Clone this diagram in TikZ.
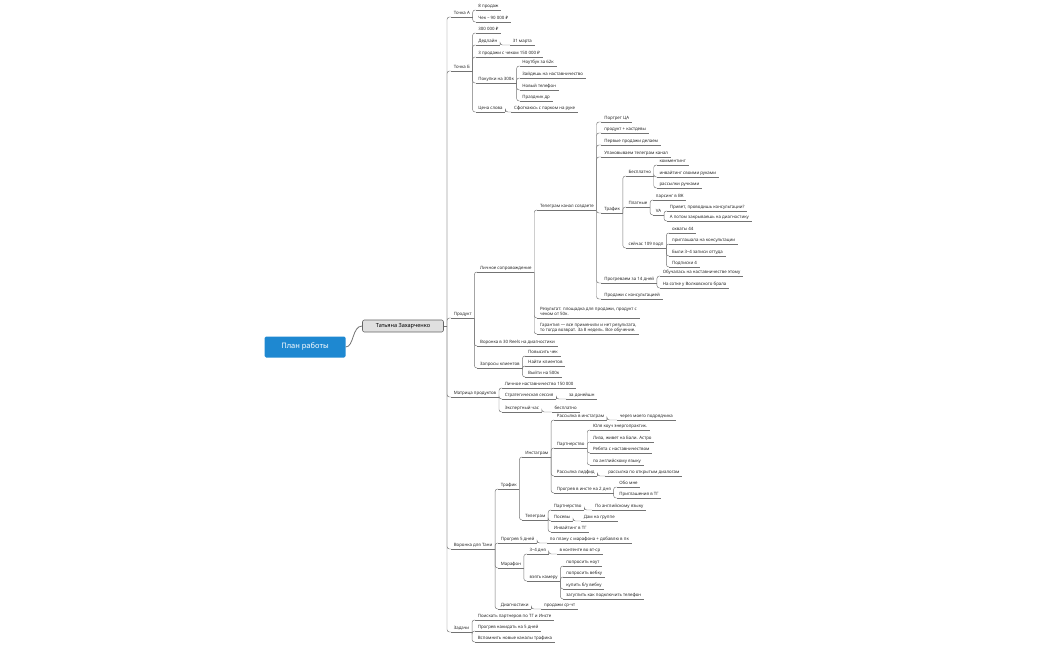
\documentclass[tikz,border=0pt]{standalone}
\usepackage{fontspec}
\setmainfont{Noto Sans}
\definecolor{rootblue}{RGB}{30,136,209}
\begin{document}
\begin{tikzpicture}[x=1pt,y=-1pt,
  mm/.style={anchor=south west,inner xsep=2.6pt,inner ysep=1.3pt,text height=3.3pt,text depth=1.1pt,font=\fontsize{4.4}{5.4}\selectfont,text=black!85,align=left},
  ln/.style={draw=black!55,line width=0.45pt}]
\useasboundingbox (0,0) rectangle (1050,650);
\newcommand\N[5]{%
 \path (#2.south east) ++(#3,0) coordinate (tmpa); \coordinate (tmpb) at (0,#4);
 \node[mm] (#1) at (tmpa |- tmpb) {#5};
 \draw[ln] (#1.south west)--(#1.south east);
 \draw[ln,rounded corners=2.5pt] (#2.south east) |- (#1.south west);}
\newcommand\M[3]{%
 \coordinate (tmpb) at (451,#2);
 \node[mm] (#1) at (tmpb) {#3};
 \draw[ln] (#1.south west)--(#1.south east);
 \draw[ln,rounded corners=2.5pt] (hub) |- (#1.south west);}
\node[fill=rootblue,rounded corners=1.5pt,minimum width=81pt,minimum height=21pt,text=white,font=\fontsize{7.5}{9}\selectfont\bfseries] (root) at (305,347) {План работы};
\node[fill=black!12,draw=black!60,line width=0.6pt,rounded corners=2pt,minimum width=81pt,minimum height=12pt,font=\fontsize{5.6}{7}\selectfont] (tat) at (403,326) {Татьяна Захарченко};
\draw[ln,line width=0.8pt] (root.east) .. controls (354,347) and (352,326) .. (tat.west);
\coordinate (hub) at (447,326);
\draw[ln] (tat.east) -- (hub);
% Точка А
\M{a}{17}{Точка А}
\N{a1}{a}{3}{10}{8 продаж}
\N{a2}{a}{3}{22}{Чек – 90 000 ₽}
% Точка Б
\M{b}{71}{Точка Б}
\N{b1}{b}{3}{33}{300 000 ₽}
\N{b2}{b}{3}{45}{Дедлайн}
\N{b2a}{b2}{10}{45}{31 марта}
\N{b3}{b}{3}{57}{3 продажи с чеком 150 000 ₽}
\N{b4}{b}{3}{83}{Покупки на 300к}
\N{b41}{b4}{3}{66}{Ноутбук за 62к}
\N{b42}{b4}{3}{78}{Зайдешь на наставничество}
\N{b43}{b4}{3}{90}{Новый телефон}
\N{b44}{b4}{3}{101}{Праздник др}
\N{b5}{b}{3}{112}{Цена слова}
\N{b5a}{b5}{6}{112}{Сфоткаюсь с парком на руке}
% Продукт
\M{p}{318}{Продукт}
\N{p1}{p}{3}{272}{Личное сопровождение}
\N{tg}{p1}{3}{210}{Телеграм канал создаете}
\N{tg1}{tg}{5}{122}{Портрет ЦА}
\N{tg2}{tg}{5}{133}{продукт + кастдевы}
\N{tg3}{tg}{5}{145}{Первые продажи делаем}
\N{tg4}{tg}{5}{157}{Упаковываем телеграм канал}
\N{tr}{tg}{5}{213}{Трафик}
\N{fr}{tr}{3}{176}{Бесплатно}
\N{fr1}{fr}{3}{165}{комментинг}
\N{fr2}{fr}{3}{177}{инвайтинг своими руками}
\N{fr3}{fr}{3}{188}{рассылки ручками}
\N{pd}{tr}{3}{207}{Платные}
\N{pd1}{pd}{3}{200}{парсинг в ВК}
\N{va}{pd}{3}{215}{VA}
\N{va1}{va}{3}{211}{Привет, проводишь консультации?}
\N{va2}{va}{3}{221}{А потом закрываешь на диагностику}
\N{sp}{tr}{3}{248}{сейчас 109 подп}
\N{sp1}{sp}{3}{233}{охваты 44}
\N{sp2}{sp}{3}{244}{приглашала на консультации}
\N{sp3}{sp}{3}{256}{Были 3–4 записи оттуда}
\N{sp4}{sp}{3}{267}{Подписки 4}
\N{pr}{tg}{5}{283}{Прогреваем за 14 дней}
\N{pr1}{pr}{3}{276}{Обучалась на наставничестве этому}
\N{pr2}{pr}{3}{288}{На сотке у Волковского брала}
\N{tg5}{tg}{5}{299}{Продажи с консультацией}
\N{p1b}{p1}{3}{318}{\vphantom{Р}Результат: площадка для продажи, продукт с\\чеком от 50к.}
\N{p1c}{p1}{3}{334}{\vphantom{Р}Гарантия — все применили и нет результата,\\то тогда возврат. За 8 недель. Все обучение.}
\N{p2}{p}{3}{346}{Воронка в 30 Reels на диагностики}
\N{p3}{p}{3}{368}{Запросы клиентов}
\N{p31}{p3}{3}{356}{Повысить чек}
\N{p32}{p3}{3}{366}{Найти клиентов}
\N{p33}{p3}{3}{377}{Выйти на 500к}
% Матрица
\M{m}{397}{Матрица продуктов}
\N{m1}{m}{3}{388}{Личное наставничество 150 000}
\N{m2}{m}{3}{399}{Стратегическая сессия}
\N{m2a}{m2}{10}{399}{за донейшн}
\N{m3}{m}{3}{412}{Экспертный час}
\N{m3a}{m3}{10}{412}{бесплатно}
% Воронка для Тани
\M{v}{549}{Воронка для Тани}
\N{vt}{v}{3}{489}{Трафик}
\N{ig}{vt}{3}{457}{Инстаграм}
\N{ig1}{ig}{3}{420}{Рассылка в инстаграм}
\N{ig1a}{ig1}{10}{420}{через моего подрядчика}
\N{ig2}{ig}{3}{448}{Партнерство}
\N{ig21}{ig2}{3}{430}{Юля коуч энергопрактик.}
\N{ig22}{ig2}{3}{442}{Лиза, живет на Бали. Астро}
\N{ig23}{ig2}{3}{453}{Ребята с наставничеством}
\N{ig24}{ig2}{3}{465}{по английскому языку}
\N{ig3}{ig}{3}{476}{Рассылка лидфид}
\N{ig3a}{ig3}{8}{476}{рассылка по открытым диалогам}
\N{ig4}{ig}{3}{493}{Прогрев в инсте на 2 дня}
\N{ig41}{ig4}{3}{487}{Обо мне}
\N{ig42}{ig4}{3}{498}{Приглашения в ТГ}
\N{tl}{vt}{3}{520}{Телеграм}
\N{tl1}{tl}{3}{510}{Партнерство}
\N{tl1a}{tl1}{8}{510}{По английскому языку}
\N{tl2}{tl}{3}{521}{Посевы}
\N{tl2a}{tl2}{8}{521}{Дам на группе}
\N{tl3}{tl}{3}{532}{Инвайтинг в ТГ}
\N{v2}{v}{3}{543}{Прогрев 5 дней}
\N{v2a}{v2}{10}{543}{по плану с марафона + добавлю в пк}
\N{mr}{v}{3}{568}{Марафон}
\N{mr1}{mr}{3}{554}{3–4 дня}
\N{mr1a}{mr1}{8}{554}{в контенте во вт-ср}
\N{mr2}{mr}{3}{581}{взять камеру}
\N{mr21}{mr2}{3}{566}{попросить ноут}
\N{mr22}{mr2}{3}{577}{попросить вебку}
\N{mr23}{mr2}{3}{589}{купить б/у вебку}
\N{mr24}{mr2}{3}{599}{загуглить как подключить телефон}
\N{dg}{v}{3}{609}{Диагностики}
\N{dga}{dg}{10}{609}{продажи ср-чт}
% Задачи
\M{z}{632}{Задачи}
\N{z1}{z}{3}{620}{Поискать партнеров по ТГ и Инсте}
\N{z2}{z}{3}{631}{Прогрев накидать на 5 дней}
\N{z3}{z}{3}{642}{Вспомнить новые каналы трафика}
\end{tikzpicture}
\end{document}
